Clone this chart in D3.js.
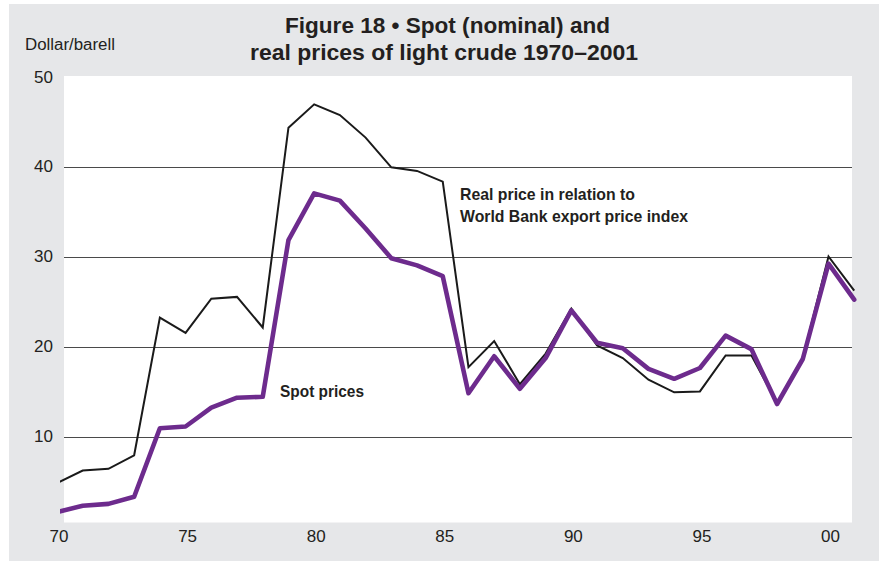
<!DOCTYPE html>
<html>
<head>
	<meta charset="utf-8" />
	<title>Figure 18</title>
	<script src="https://cdn.jsdelivr.net/npm/d3@7"></script>
	<style>
	body { margin: 0; background: #fff; }
	text { font-family: "Liberation Sans Narrow", "Arial Narrow", "Liberation Sans", sans-serif; fill: #231f20; }
	.title { font-size: 22.5px; font-weight: bold; }
	.note { font-size: 17px; font-weight: bold; }
	.tick text { font-size: 17px; }
	</style>
</head>
<body>
<div id="chart"></div>
<script>

// years 1970-2001
const years = d3.range(1970, 2002);

// dollar per barrel
const spot = [1.7, 2.4, 2.6, 3.4, 11.0, 11.2, 13.3, 14.4, 14.5, 31.9,
	37.1, 36.3, 33.2, 29.9, 29.1, 27.9, 14.9, 19.0, 15.4, 18.8,
	24.1, 20.5, 19.9, 17.6, 16.5, 17.7, 21.3, 19.8, 13.7, 18.7,
	29.3, 25.3];
const real = [4.9, 6.3, 6.5, 8.0, 23.3, 21.6, 25.4, 25.6, 22.2, 44.4,
	47.0, 45.8, 43.3, 40.0, 39.6, 38.4, 17.8, 20.7, 15.9, 19.3,
	24.3, 20.2, 18.8, 16.4, 15.0, 15.1, 19.1, 19.1, 13.8, 18.8,
	30.1, 26.3];

const yTicks = [10, 20, 30, 40, 50];
const xTicks = [1970, 1975, 1980, 1985, 1990, 1995, 2000];
const xTickLabels = ["70", "75", "80", "85", "90", "95", "00"];

const width = 879, height = 562;
const plot = {left: 64, right: 852, top: 76, bottom: 522.5};

let svg = d3.select("#chart").append("svg")
	.attr("width", width)
	.attr("height", height);

// grey page
svg.append("rect")
	.attr("x", 9).attr("y", 4)
	.attr("width", width - 9).attr("height", height - 5)
	.attr("fill", "#e6e7e9");

// white plot area
svg.append("rect")
	.attr("x", plot.left).attr("y", plot.top)
	.attr("width", plot.right - plot.left).attr("height", plot.bottom - plot.top)
	.attr("fill", "#fff");

let x = d3.scaleLinear().domain([1970, 2000]).range([57, 828.5]);
let y = d3.scaleLinear().domain([0, 40]).range([527.3, 167.3]);

// grid lines
svg.append("g")
	.selectAll("line")
	.data(yTicks.filter(d => d < 50))
	.enter().append("line")
	.attr("x1", plot.left).attr("x2", plot.right)
	.attr("y1", d => Math.round(y(d)) + 0.5)
	.attr("y2", d => Math.round(y(d)) + 0.5)
	.attr("stroke", "#4a4a4a")
	.attr("stroke-width", 1);

// y axis labels
let yAxis = svg.append("g")
	.attr("transform", "translate(54,0)")
	.call(d3.axisLeft(y).tickValues(yTicks).tickSize(0).tickPadding(0));
yAxis.select(".domain").remove();
yAxis.selectAll(".tick text").attr("dy", "0.22em").attr("dx", "-1");
yAxis.selectAll(".tick").filter(d => d == 50).select("text").attr("dy", "0.3em");

// x axis labels
let xAxis = svg.append("g")
	.attr("transform", "translate(0,530)")
	.call(d3.axisBottom(x).tickValues(xTicks)
		.tickFormat((d, i) => xTickLabels[i]).tickSize(0).tickPadding(0));
xAxis.select(".domain").remove();
xAxis.selectAll(".tick text").attr("dy", "0.72em").attr("dx", "1.5");

// clip lines on the left like the original
svg.append("clipPath").attr("id", "clip")
	.append("rect").attr("x", 60).attr("y", 0).attr("width", 820).attr("height", height);

let line = values => d3.line()
	.x((d, i) => x(years[i]))
	.y(d => y(d))(values);

svg.append("path")
	.attr("d", line(real))
	.attr("clip-path", "url(#clip)")
	.attr("fill", "none")
	.attr("stroke", "#1a1a1a")
	.attr("stroke-width", 2)
	.attr("stroke-linejoin", "miter");

svg.append("path")
	.attr("d", line(spot))
	.attr("clip-path", "url(#clip)")
	.attr("fill", "none")
	.attr("stroke", "#6d2b8d")
	.attr("stroke-width", 4.6)
	.attr("stroke-linejoin", "round")
	.attr("stroke-linecap", "round");

// condensed look: squeeze text to the widths measured on the original
function label(txt, xpos, ypos, cls, len) {
	return svg.append("text").attr("class", cls)
		.attr("x", xpos).attr("y", ypos)
		.attr("textLength", len)
		.attr("lengthAdjust", "spacingAndGlyphs")
		.text(txt);
}

label("Figure 18 \u2022 Spot (nominal) and", 285, 33, "title", 325);
label("real prices of light crude 1970\u20132001", 250, 60, "title", 388);

label("Dollar/barell", 25, 50, "", 90).style("font-size", "16px");

label("Real price in relation to", 460, 200, "note", 175);
label("World Bank export price index", 460, 222, "note", 228);
label("Spot prices", 280, 397, "note", 84);

</script>
</body>
</html>
